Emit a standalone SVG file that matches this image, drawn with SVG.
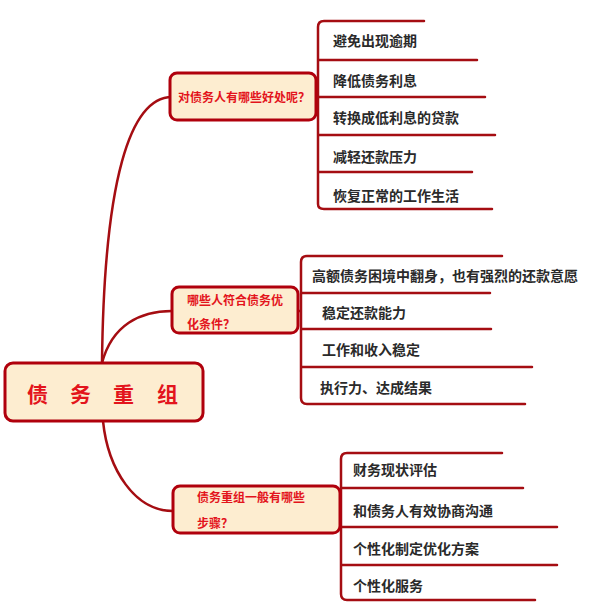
<svg xmlns="http://www.w3.org/2000/svg" width="593" height="606" viewBox="0 0 593 606">
<style>
.box{fill:#fdedd0;stroke:#b0000c;stroke-width:3}
.con{fill:none;stroke:#a50d12;stroke-width:2.5;stroke-linecap:round}
.bt{font-family:"Noto Sans CJK SC",sans-serif;font-size:12px;font-weight:bold;fill:#e3141c;dominant-baseline:central}
.rt{font-family:"Noto Sans CJK SC",sans-serif;font-size:21px;font-weight:bold;fill:#e3141c;dominant-baseline:central}
.lt{font-family:"Noto Sans CJK SC",sans-serif;font-size:14px;font-weight:bold;fill:#2a2a2a;dominant-baseline:central}
</style>
<rect width="593" height="606" fill="#ffffff"/>
<g id="connectors">
<path class="con" d="M102,363 C104,180 130,97 172,97"/>
<path class="con" d="M102,363 C112,325 140,311 172,311"/>
<path class="con" d="M103,421 C108,470 135,511 173,511"/>
<path class="con" d="M315,97 H318 M424,21 H324 Q318,21 318,27 V204 Q318,209 324,209 H492 M318,60 H477 M318,97 H485 M318,135 H495 M318,172 H472"/>
<path class="con" d="M298,311 H301 M502,256 H307 Q301,256 301,262 V398 Q301,404 307,404 H525 M301,293 H490 M301,329 H491 M301,367 H532"/>
<path class="con" d="M340,511 H341 M502,453 H347 Q341,453 341,459 V594 Q341,600 347,600 H535 M341,488 H523 M341,527 H557 M341,565 H557"/>
</g>
<g id="root">
<rect class="box" x="5" y="363" width="198" height="58" rx="8"/>
<text class="rt" y="393"><tspan x="27">债</tspan><tspan x="70">务</tspan><tspan x="113">重</tspan><tspan x="157">组</tspan></text>
</g>
<g id="branch1">
<rect class="box" x="170" y="73" width="146" height="47" rx="7"/>
<text class="bt" x="178" y="96">对债务人有哪些好处呢？</text>
</g>
<g id="branch2">
<rect class="box" x="172" y="287" width="126" height="46" rx="7"/>
<text class="bt" x="187" y="299">哪些人符合债务优</text>
<text class="bt" x="187" y="323">化条件？</text>
</g>
<g id="branch3">
<rect class="box" x="173" y="486" width="167" height="47" rx="7"/>
<text class="bt" x="197" y="496">债务重组一般有哪些</text>
<text class="bt" x="197" y="522">步骤？</text>
</g>
<g id="leaves1">
<text class="lt" x="333" y="40">避免出现逾期</text>
<text class="lt" x="333" y="80">降低债务利息</text>
<text class="lt" x="333" y="117">转换成低利息的贷款</text>
<text class="lt" x="333" y="156">减轻还款压力</text>
<text class="lt" x="333" y="195">恢复正常的工作生活</text>
</g>
<g id="leaves2">
<text class="lt" x="312" y="275">高额债务困境中翻身，也有强烈的还款意愿</text>
<text class="lt" x="322" y="312">稳定还款能力</text>
<text class="lt" x="322" y="349">工作和收入稳定</text>
<text class="lt" x="320" y="387">执行力、达成结果</text>
</g>
<g id="leaves3">
<text class="lt" x="353" y="469">财务现状评估</text>
<text class="lt" x="353" y="510">和债务人有效协商沟通</text>
<text class="lt" x="353" y="548">个性化制定优化方案</text>
<text class="lt" x="353" y="585">个性化服务</text>
</g>
</svg>
